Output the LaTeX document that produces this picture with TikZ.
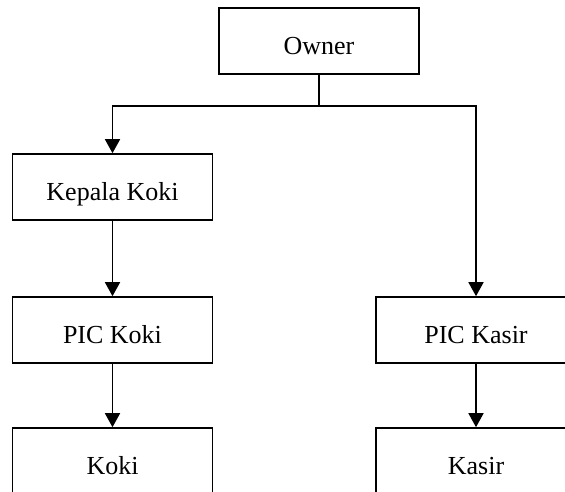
\documentclass[tikz,border=0pt]{standalone}
\usepackage{fontspec}
\setmainfont{Liberation Serif}
\usetikzlibrary{arrows.meta}
\tikzset{
  orgbox/.style={draw=black, line width=1.6pt, fill=white, minimum width=200pt, minimum height=66pt,
    inner sep=2pt, text height=27pt, text depth=0pt, font=\fontsize{26pt}{30pt}\selectfont},
  link/.style={draw=black, line width=1.6pt},
  arr/.style={link, -{Triangle[width=15pt,length=14pt]}}
}
\begin{document}
\begin{tikzpicture}[x=1pt,y=-1pt]
\useasboundingbox (0,0) rectangle (565,492);
\clip (0,0) rectangle (565,492);
\fill[white] (0,0) rectangle (565,492);
\node[orgbox] (owner) at (319,41) {Owner};
\node[orgbox] (kepala) at (112.5,187) {Kepala Koki};
\node[orgbox] (pickoki) at (112.5,330) {PIC Koki};
\node[orgbox] (pickasir) at (476,330) {PIC Kasir};
\node[orgbox] (koki) at (112.5,461) {Koki};
\node[orgbox] (kasir) at (476,461) {Kasir};
\coordinate (j) at (319,106);
\draw[link] (owner.south) -- (j);
\draw[arr] (j) -| (kepala.north);
\draw[arr] (j) -| (pickasir.north);
\draw[arr] (kepala.south) -- (pickoki.north);
\draw[arr] (pickoki.south) -- (koki.north);
\draw[arr] (pickasir.south) -- (kasir.north);
\end{tikzpicture}
\end{document}
